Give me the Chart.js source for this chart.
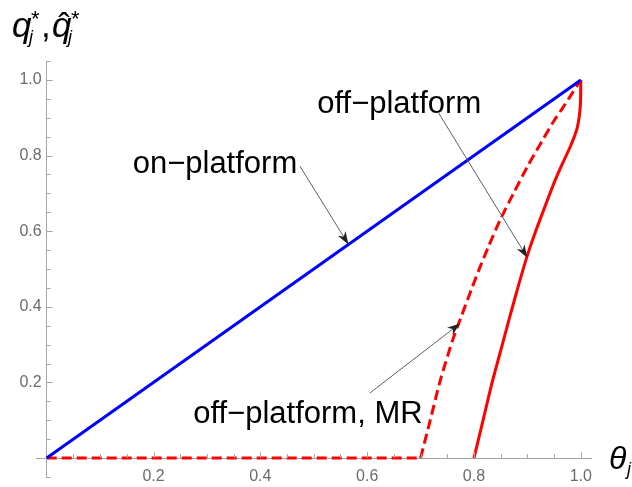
<!DOCTYPE html>
<html>
<head>
<meta charset="utf-8">
<script src="https://cdn.jsdelivr.net/npm/chart.js@4.4.1/dist/chart.umd.min.js"></script>
<style>
  html, body { margin: 0; padding: 0; background: #fff; }
  #wrap { width: 632px; height: 487px; }
</style>
</head>
<body>
<div id="wrap"><canvas id="chart" width="632" height="487"></canvas></div>
<script>
// theta_j on the horizontal axis, q on the vertical axis
const onTheta = [0, 1];
const onQ = [0, 1];

const offTheta = [0.800, 0.817, 0.834, 0.853, 0.876, 0.899, 0.913, 0.928, 0.952, 0.966, 0.981, 0.993, 0.999, 1.0];
const offQ = [0, 0.10, 0.20, 0.30, 0.42, 0.532, 0.59, 0.647, 0.735, 0.78, 0.826, 0.872, 0.93, 1.0];

// MR curve: flat part at zero, then the rising branch
const mrFlatTheta = [0, 0.70];
const mrFlatQ = [0, 0];
const mrTheta = [0.70, 0.718, 0.737, 0.760, 0.775, 0.797, 0.809, 0.827, 0.849, 0.874, 0.900, 0.928, 0.949, 0.968, 0.984, 1.0];
const mrQ = [0, 0.10, 0.206, 0.312, 0.37, 0.453, 0.497, 0.559, 0.63, 0.70, 0.771, 0.84, 0.89, 0.93, 0.965, 1.0];

const xTickValues = [0.2, 0.4, 0.6, 0.8, 1.0];
const yTickValues = [0.2, 0.4, 0.6, 0.8, 1.0];

// callouts, in data coordinates
const notes = [
  { text: 'on\u2212platform', at: [0.315, 0.755], tail: [0.474, 0.772], tip: [0.565, 0.565] },
  { text: 'off\u2212platform', at: [0.660, 0.913], tail: [0.734, 0.912], tip: [0.900, 0.530] },
  { text: 'off\u2212platform, MR', at: [0.489, 0.093], tail: [0.605, 0.172], tip: [0.774, 0.356] }
];

const FONT = '"Liberation Sans", Arial, sans-serif';
const AXIS_GRAY = '#a6a6a6';

function pts(xs, ys) {
  return xs.map((x, i) => ({ x: x, y: ys[i] }));
}

function arrow(ctx, x1, y1, x2, y2) {
  const a = Math.atan2(y2 - y1, x2 - x1);
  const len = 13, half = 4.5, notch = 9;
  ctx.save();
  ctx.strokeStyle = '#5f5f5f';
  ctx.lineWidth = 1;
  ctx.beginPath();
  ctx.moveTo(x1, y1);
  ctx.lineTo(x2 - Math.cos(a) * notch, y2 - Math.sin(a) * notch);
  ctx.stroke();
  ctx.translate(x2, y2);
  ctx.rotate(a);
  ctx.fillStyle = '#222';
  ctx.beginPath();
  ctx.moveTo(0, 0);
  ctx.lineTo(-len, -half);
  ctx.lineTo(-notch, 0);
  ctx.lineTo(-len, half);
  ctx.closePath();
  ctx.fill();
  ctx.restore();
}

const decorations = {
  id: 'decorations',
  afterDraw(chart) {
    const ctx = chart.ctx;
    const xs = chart.scales.x, ys = chart.scales.y;
    const x0 = xs.getPixelForValue(0), y0 = ys.getPixelForValue(0);

    ctx.save();
    // small stub of the horizontal axis left of the origin, and inward ticks
    ctx.strokeStyle = AXIS_GRAY;
    ctx.lineWidth = 1;
    ctx.beginPath();
    ctx.moveTo(xs.left - 11, Math.round(y0) + 0.5);
    ctx.lineTo(x0, Math.round(y0) + 0.5);
    for (let i = 1; i <= 20; i++) {
      const px = Math.round(xs.getPixelForValue(i * 0.05)) + 0.5;
      const l = i % 4 === 0 ? 6 : 4;
      ctx.moveTo(px, y0);
      ctx.lineTo(px, y0 - l);
    }
    for (let i = -1; i <= 21; i++) {
      if (i === 0) continue;
      const py = Math.round(ys.getPixelForValue(i * 0.05)) + 0.5;
      const l = i % 4 === 0 ? 6 : 4;
      ctx.moveTo(x0, py);
      ctx.lineTo(x0 + l, py);
    }
    ctx.stroke();

    // callouts
    ctx.fillStyle = '#000';
    ctx.font = '31px ' + FONT;
    ctx.textAlign = 'center';
    ctx.textBaseline = 'alphabetic';
    notes.forEach(n => {
      ctx.fillText(n.text, xs.getPixelForValue(n.at[0]), ys.getPixelForValue(n.at[1]));
      arrow(ctx,
        xs.getPixelForValue(n.tail[0]), ys.getPixelForValue(n.tail[1]),
        xs.getPixelForValue(n.tip[0]), ys.getPixelForValue(n.tip[1]));
    });

    // axis titles
    ctx.textAlign = 'left';
    ctx.font = 'italic 35px ' + FONT;
    ctx.fillText('q', 12, 37);
    ctx.fillText('q', 52, 37);
    ctx.font = '35px ' + FONT;
    ctx.fillText(',', 41, 37);
    ctx.textAlign = 'center';
    ctx.fillText('\u02C6', 64, 38);
    ctx.textAlign = 'left';
    ctx.font = '22px ' + FONT;
    ctx.fillText('*', 31, 26);
    ctx.fillText('*', 71, 26);
    ctx.font = 'italic 18px ' + FONT;
    ctx.fillText('j', 29, 43);
    ctx.fillText('j', 68, 43);

    ctx.font = 'italic 32px ' + FONT;
    ctx.fillText('\u03B8', 609, 469);
    ctx.font = 'italic 18px ' + FONT;
    ctx.fillText('j', 627, 475);
    ctx.restore();
  }
};

const redDash = {
  showLine: true,
  borderColor: '#ff0000',
  borderWidth: 3,
  borderDash: [10, 5],
  pointRadius: 0,
  clip: false
};

new Chart(document.getElementById('chart'), {
  type: 'scatter',
  data: {
    datasets: [
      {
        label: 'on-platform',
        data: pts(onTheta, onQ),
        showLine: true,
        borderColor: '#0000ff',
        borderWidth: 3,
        pointRadius: 0,
        clip: false
      },
      {
        label: 'off-platform',
        data: pts(offTheta, offQ),
        showLine: true,
        borderColor: '#ff0000',
        borderWidth: 3,
        pointRadius: 0,
        tension: 0.25,
        clip: false
      },
      Object.assign({ label: 'off-platform, MR', data: pts(mrFlatTheta, mrFlatQ) }, redDash),
      Object.assign({ label: 'off-platform, MR (rising)', data: pts(mrTheta, mrQ), tension: 0.25 }, redDash)
    ]
  },
  options: {
    responsive: false,
    animation: false,
    devicePixelRatio: 1,
    layout: { autoPadding: false, padding: { left: 0, right: 40.5, top: 61, bottom: 10 } },
    plugins: { legend: { display: false }, tooltip: { enabled: false } },
    scales: {
      x: {
        type: 'linear',
        min: 0,
        max: 1.02,
        position: { y: 0 },
        grid: { display: false, drawTicks: false },
        border: { display: true, color: AXIS_GRAY, width: 1 },
        afterFit(s) { s.height = 0; s.paddingLeft = 0; s.paddingRight = 0; },
        afterBuildTicks(s) { s.ticks = xTickValues.map(v => ({ value: v })); },
        ticks: {
          padding: 9,
          color: '#6b6b6b',
          font: { family: FONT, size: 16 },
          callback: v => v.toFixed(1)
        }
      },
      y: {
        type: 'linear',
        min: -0.05,
        max: 1.05,
        position: 'left',
        grid: { display: false, drawTicks: false },
        border: { display: true, color: AXIS_GRAY, width: 1 },
        afterFit(s) { s.width = 46.7; s.paddingTop = 0; s.paddingBottom = 0; },
        afterBuildTicks(s) { s.ticks = yTickValues.map(v => ({ value: v })); },
        ticks: {
          padding: 5,
          color: '#6b6b6b',
          font: { family: FONT, size: 16 },
          callback: v => v.toFixed(1)
        }
      }
    }
  },
  plugins: [decorations]
});
</script>
</body>
</html>
